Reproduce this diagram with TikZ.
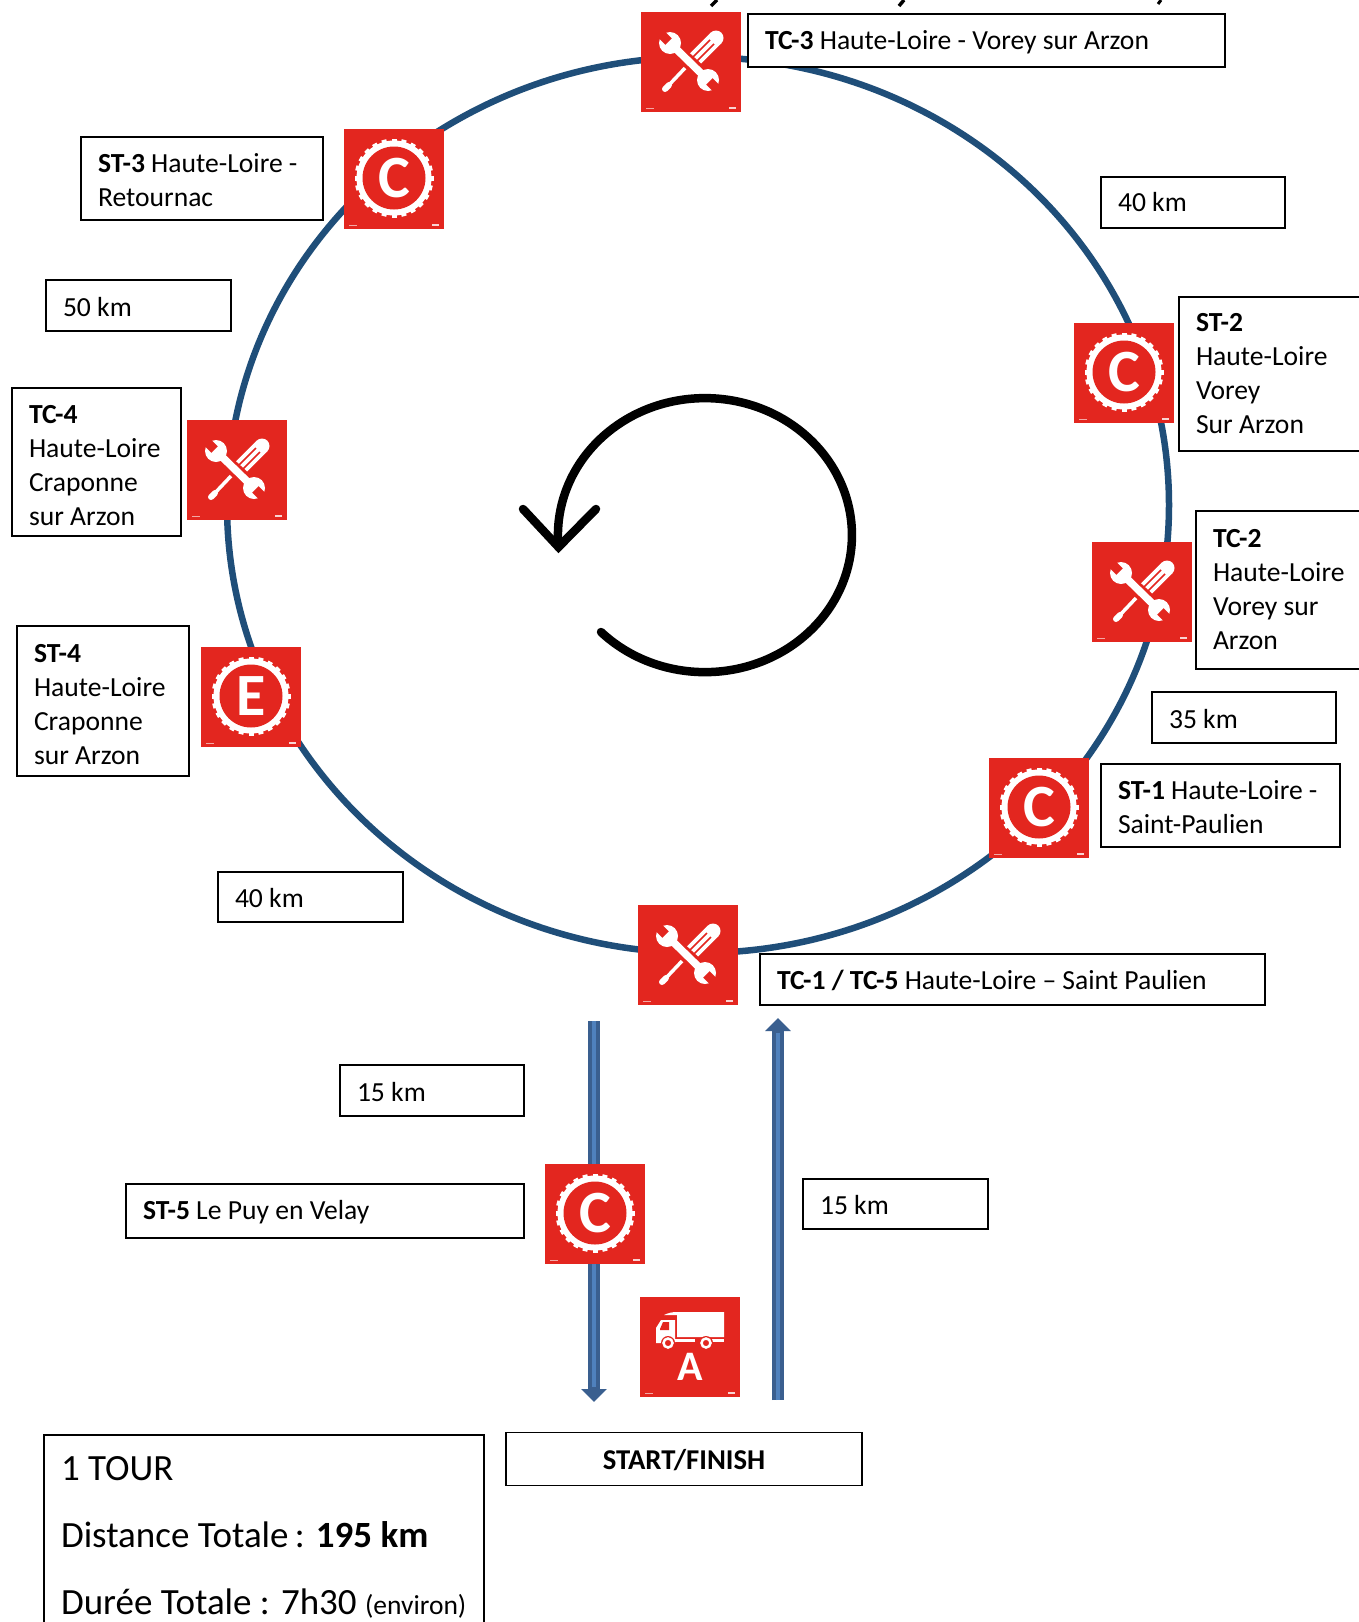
\documentclass[tikz,border=0pt]{standalone}
\usepackage{fontspec}
\setmainfont{Carlito}
\usetikzlibrary{arrows.meta,calc}
\definecolor{ringblue}{HTML}{1F4E79}
\definecolor{shaftblue}{HTML}{3A5F8F}
\definecolor{shaftlight}{HTML}{4F81BD}
\definecolor{iconred}{HTML}{E3261F}
\newcommand\boxfont{\fontsize{27.6}{34}\selectfont}
\newcommand\tourfont{\fontsize{37}{67}\selectfont}
\tikzset{
  x=1pt,y=-1pt,
  infobox/.style={draw=black,line width=1.5pt,fill=white,align=flush left,inner xsep=17pt,inner ysep=0pt,outer sep=0pt,font=\boxfont},
  iconsq/.style={fill=iconred,minimum size=100pt,inner sep=0pt,outer sep=0pt},
  ring/.style={draw=ringblue,line width=6.5pt},
  turn/.style={draw=black,line width=8.5pt,line cap=round},
  route/.style={shaftblue,line width=12pt,-{Triangle[width=25pt,length=13pt]}},
  routein/.style={shaftlight,line width=4pt},
  marks/.pic={
    \fill[white,opacity=.6] (-45,46) rectangle (-37,47);
    \fill[white,opacity=.8] (38,44.5) rectangle (45,47);
  },
  gearicon/.pic={
    \node[iconsq] (-sq) at (0,0) {};
    \fill[white] (0,-1) circle[radius=37.5pt];
    \foreach \a in {0,15,...,345} \draw[white,line width=5pt] ($(0,-1)+(\a:35)$) -- ($(0,-1)+(\a:39.5)$);
    \fill[iconred] (0,-1) circle[radius=31.5pt];
    \node[text=white,inner sep=0pt,font=\fontsize{60}{60}\bfseries\selectfont] (-letter) at (0,-1) {#1};
    \pic {marks};
  },
  toolicon/.pic={
    \node[iconsq] (-sq) at (0,0) {};
    \begin{scope}[shift={(-50,-50)}]
      \draw[white,line width=15pt] (52,49) -- (75,26);
      \fill[white] (75,26) circle[radius=7.5pt];
      \draw[iconred,line width=1.5pt] (50,47) -- (69,28);
      \draw[iconred,line width=1.5pt] (54,51) -- (73,32);
      \draw[white,line width=3.5pt] (45,55) -- (27,74);
      \draw[white,line width=6pt,line cap=round] (28,73) -- (24,77);
      \draw[iconred,line width=14pt] (33,36) -- (62,63);
      \draw[white,line width=7.5pt] (29,31) -- (67,68);
      \fill[white] (29,31) circle[radius=11pt] (67,68) circle[radius=11pt];
      \fill[iconred] (30.8,26.4) -- (24.4,32.8) -- (14.5,22.9) -- (20.9,16.5) -- cycle;
      \fill[iconred] (71.6,66.2) -- (65.2,72.6) -- (75.1,82.5) -- (81.5,76.1) -- cycle;
    \end{scope}
    \pic {marks};
  },
  truckicon/.pic={
    \node[iconsq] (-sq) at (0,0) {};
    \begin{scope}[shift={(-50,-50)}]
      \fill[white] (24,18) .. controls (28,16) and (32,15) .. (37,15) -- (84,15) -- (84,40) -- (37,40) -- (37,18) -- cycle;
      \fill[white] (21,23) -- (35,23) -- (35,46) -- (16,46) -- (16,31) -- cycle;
      \fill[iconred] (20,32) -- (23,25) -- (29,25) -- (29,33) -- (20,33) -- cycle;
      \fill[white] (35,41.5) rectangle (55,45);
      \fill[white] (60,41.5) rectangle (84,45);
      \fill[iconred] (28,46) circle[radius=7pt] (66,46) circle[radius=7pt];
      \draw[white,line width=2.5pt] (28,46) circle[radius=4.5pt] (66,46) circle[radius=4.5pt];
    \end{scope}
    \node[text=white,inner sep=0pt,font=\fontsize{42}{42}\bfseries\selectfont] (-letter) at (0,20) {A};
    \pic {marks};
  }
}
\newcommand\infob[7][21.6]{%
  \pgfmathsetmacro\bw{#5-#3}\pgfmathsetmacro\bh{#6-#4}\pgfmathsetmacro\tw{#5-#3-34}%
  \node[infobox,minimum width=\bw pt,minimum height=\bh pt,text width=\tw pt] (#2) at ({(#3+#5)/2},{(#4+#6)/2}) {\rule{0pt}{#1pt}#7};}
\begin{document}
\begin{tikzpicture}
\useasboundingbox (0,0) rectangle (1359,1622);
\clip (0,0) rectangle (1359,1622);
\fill[white] (0,0) rectangle (1359,1622);

% cut-off heading remains
\draw[black,line width=3.5pt] (717,0) -- (711,6);
\draw[black,line width=3.5pt] (904,0) -- (899,6);
\draw[black,line width=3pt] (1161,0) -- (1158,4);

% ring and turn direction
\coordinate (ringc) at (698,505);
\draw[ring] (ringc) circle[x radius=471pt,y radius=448pt];
\coordinate (turnc) at (705,535);
\draw[turn] ($(turnc)+(-104,97)$) arc[start angle=-135,end angle=185,x radius=147pt,y radius=137pt] coordinate (turnend);
\coordinate (hl) at (523,509);
\coordinate (hr) at (596,509);
\draw[turn,line join=miter] (hl) -- (turnend) -- (hr);

% route arrows
\coordinate (downa) at (594,1021);
\coordinate (downb) at (594,1402);
\coordinate (upa) at (778,1400);
\coordinate (upb) at (778,1018);
\draw[route] (downa) -- (downb);
\draw[routein] (downa) -- ($(downb)+(0,-15)$);
\draw[route] (upa) -- (upb);
\draw[routein] (upa) -- ($(upb)+(0,15)$);

% boxes
\infob{btc3}{748}{14}{1225}{67}{\textbf{TC-3} Haute-Loire - Vorey sur Arzon}
\infob{bst3}{81}{137}{323}{220}{\textbf{ST-3} Haute-Loire -\\Retournac}
\infob[18]{km40a}{1101}{177}{1285}{228}{40 km}
\infob{km50}{46}{280}{231}{331}{50 km}
\infob[18]{bst2}{1179}{297}{1400}{451}{\textbf{ST-2}\\Haute-Loire\\Vorey\\Sur Arzon}
\infob[25.6]{btc4}{12}{388}{181}{536}{\textbf{TC-4}\\Haute-Loire\\Craponne\\sur Arzon}
\infob[18]{btc2}{1196}{511}{1400}{669}{\textbf{TC-2}\\Haute-Loire\\Vorey sur\\Arzon}
\infob[25.6]{bst4}{17}{626}{189}{776}{\textbf{ST-4}\\Haute-Loire\\Craponne\\sur Arzon}
\infob{km35}{1152}{692}{1336}{743}{35 km}
\infob{bst1}{1101}{764}{1340}{847}{\textbf{ST-1} Haute-Loire -\\Saint-Paulien}
\infob{km40b}{218}{872}{403}{922}{40 km}
\infob{btc1}{760}{954}{1265}{1005}{\textbf{TC-1 / TC-5} Haute-Loire -- Saint Paulien}
\infob{km15a}{340}{1065}{524}{1116}{15 km}
\infob{bst5}{126}{1184}{524}{1238}{\textbf{ST-5} Le Puy en Velay}
\infob{km15b}{803}{1179}{988}{1229}{15 km}
\node[infobox,minimum width=356pt,minimum height=53pt,align=center,font=\fontsize{28.7}{34}\selectfont] (bstart) at (684,1459) {\rule{0pt}{21.6pt}\textbf{START/FINISH}};
\node[infobox,minimum width=440pt,minimum height=204pt,anchor=north west,text width=406pt,font=\tourfont] (btour) at (44,1435) {1 TOUR\\Distance Totale\,: \textbf{195 km}\\\mbox{Durée Totale : 7h30 {\fontsize{27.5}{67}\selectfont (environ)}}};

% icons
\pic (tc3) at (691,62) {toolicon};
\pic (st3) at (394,179) {gearicon=C};
\pic (st2) at (1124,373) {gearicon=C};
\pic (tc2) at (1142,592) {toolicon};
\pic (st1) at (1039,808) {gearicon=C};
\pic (tc1) at (688,955) {toolicon};
\pic (st4) at (251,697) {gearicon=E};
\pic (tc4) at (237,470) {toolicon};
\pic (st5) at (595,1214) {gearicon=C};
\pic (assist) at (690,1347) {truckicon};
\end{tikzpicture}
\end{document}
